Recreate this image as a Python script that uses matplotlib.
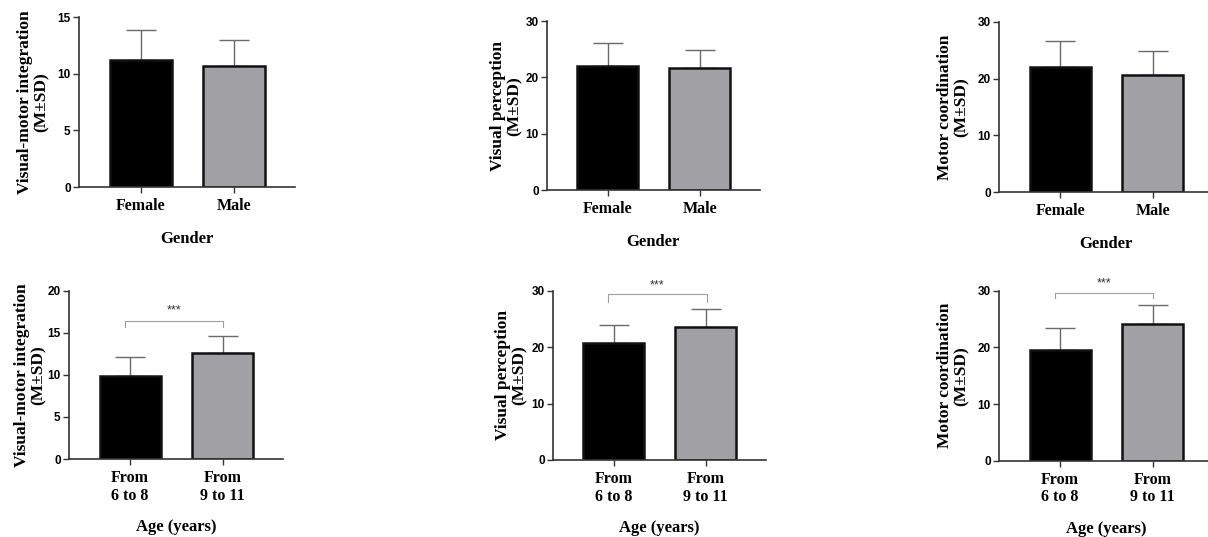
import matplotlib
matplotlib.use("Agg")
import matplotlib.pyplot as plt

# ---------------- data ----------------
gender_cats = ["Female", "Male"]
age_cats = ["From\n6 to 8", "From\n9 to 11"]

vmi_gender_mean = [11.2, 10.7]
vmi_gender_sd = [2.65, 2.3]
vp_gender_mean = [22.0, 21.6]
vp_gender_sd = [4.05, 3.3]
mc_gender_mean = [22.1, 20.7]
mc_gender_sd = [4.6, 4.1]

vmi_age_mean = [9.9, 12.6]
vmi_age_sd = [2.2, 2.0]
vp_age_mean = [20.7, 23.5]
vp_age_sd = [3.3, 3.3]
mc_age_mean = [19.5, 24.1]
mc_age_sd = [3.9, 3.4]

ylabels = ["Visual-motor integration\n(M\u00b1SD)",
           "Visual perception\n(M\u00b1SD)",
           "Motor coordination\n(M\u00b1SD)"]
ylims = [15, 30, 30, 20, 30, 30]
ystep = [5, 10, 10, 5, 10, 10]
sig_level = [None, None, None, 16.4, 29.4, 29.6]
sig_leg = [None, None, None, 15.65, 28.0, 28.7]
sig_text_y = [None, None, None, 17.6, 30.9, 31.2]

# ---------------- layout ----------------
W, H = 1208, 537
fig = plt.figure(figsize=(W / 100, H / 100), dpi=100)

# (left_px, bottom_px, top_px, label_right_px)
boxes = [
    (79, 187, 17, 50),
    (547, 190.3, 21, 523),
    (999, 192, 22, 970),
    (69, 459, 290.7, 47),
    (553, 460, 290.7, 528),
    (999, 460.7, 290.7, 970),
]
spacing_px = [93.5, 92, 92.5, 92.5, 92, 92.5]
xl = (-0.66, 1.65)

panels = [
    (gender_cats, vmi_gender_mean, vmi_gender_sd, ylabels[0], "Gender"),
    (gender_cats, vp_gender_mean, vp_gender_sd, ylabels[1], "Gender"),
    (gender_cats, mc_gender_mean, mc_gender_sd, ylabels[2], "Gender"),
    (age_cats, vmi_age_mean, vmi_age_sd, ylabels[0], "Age (years)"),
    (age_cats, vp_age_mean, vp_age_sd, ylabels[1], "Age (years)"),
    (age_cats, mc_age_mean, mc_age_sd, ylabels[2], "Age (years)"),
]

serif = "Liberation Serif"
sans = "Liberation Sans"
bar_colors = ["#000000", "#a0a0a5"]

for i, (cats, means, sds, ylab, xlab) in enumerate(panels):
    left, bot, top, lab_r = boxes[i]
    wpx = spacing_px[i] * (xl[1] - xl[0])
    ax = fig.add_axes([left / W, 1 - bot / H, wpx / W, (bot - top) / H])
    x = list(range(len(cats)))
    ax.bar(x, means, width=0.66, color=bar_colors, edgecolor="#111111",
           linewidth=1.8, zorder=2)
    ax.errorbar(x, means, yerr=[[0] * len(sds), sds], fmt="none",
                ecolor="#6a6a6a", elinewidth=1.0, capsize=11, capthick=1.0,
                zorder=1)
    ax.set_xlim(*xl)
    ax.set_ylim(0, ylims[i])
    ax.set_yticks(range(0, ylims[i] + 1, ystep[i]))
    ax.set_xticks(x)
    ax.set_xticklabels(cats, fontfamily=serif, fontweight="bold", fontsize=11.5,
                       linespacing=1.12)
    for t in ax.get_yticklabels():
        t.set_fontfamily(sans)
        t.set_fontweight("bold")
        t.set_fontsize(8.5)
    for s in ["top", "right"]:
        ax.spines[s].set_visible(False)
    for s in ["left", "bottom"]:
        ax.spines[s].set_color("#333333")
        ax.spines[s].set_linewidth(1.2)
    ax.tick_params(axis="y", length=4, width=1.0, color="#333333", pad=2)
    ax.tick_params(axis="x", length=4, width=1.0, color="#333333", pad=4)
    ax.set_ylabel(ylab, fontfamily=serif, fontweight="bold", fontsize=12.5,
                  linespacing=1.1)
    ax.yaxis.set_label_coords((lab_r - left) / wpx, 0.5)
    ax.set_xlabel(xlab, fontfamily=serif, fontweight="bold", fontsize=12,
                  labelpad=12 if i < 3 else 11)
    ax.set_facecolor("none")

    if sig_level[i] is not None:
        x0, x1 = -0.06, 1.01
        ax.plot([x0, x0, x1, x1], [sig_leg[i], sig_level[i], sig_level[i], sig_leg[i]],
                color="#a0a0a0", lw=0.8, clip_on=False, zorder=3)
        ax.text((x0 + x1) / 2, sig_text_y[i], "***", ha="center", va="center",
                fontsize=9, color="#333333", fontfamily=sans, clip_on=False)

fig.savefig("out.png", dpi=100)
